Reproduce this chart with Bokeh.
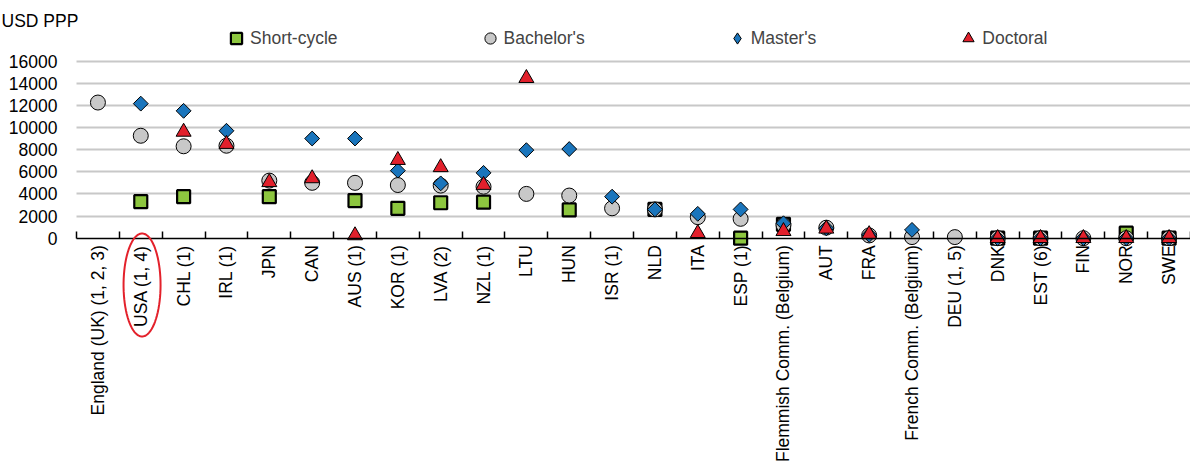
import numpy as np
from bokeh.plotting import figure
from bokeh.models import (ColumnDataSource, Range1d, LinearAxis, FixedTicker, Legend,
                          LegendItem, Label, PolyAnnotation, Grid)
from bokeh.embed import file_html
from bokeh.resources import INLINE

nan = float("nan")

categories = ["England (UK) (1, 2, 3)", "USA (1, 4)", "CHL (1)", "IRL (1)", "JPN", "CAN",
              "AUS (1)", "KOR (1)", "LVA (2)", "NZL (1)", "LTU", "HUN", "ISR (1)", "NLD",
              "ITA", "ESP (1)", "Flemmish Comm. (Belgium)", "AUT", "FRA",
              "French Comm. (Belgium)", "DEU (1, 5)", "DNK", "EST (6)", "FIN", "NOR", "SWE"]

short_cycle = [nan, 3300, 3750, nan, 3750, nan, 3400, 2700, 3200, 3250, nan, 2550, nan, 2600,
               nan, 0, 1250, nan, nan, nan, nan, 0, 0, nan, 450, 0]
bachelors = [12250, 9250, 8300, 8350, 5200, 5000, 5000, 4800, 4750, 4650, 4000, 3850, 2700,
             2600, 1900, 1750, 1200, 950, 250, 100, 100, 0, 0, 0, 0, 0]
masters = [nan, 12150, 11500, 9700, nan, 9000, 9000, 6100, 4950, 5900, 7950, 8050, 3750,
           2600, 2200, 2600, 1350, 900, 300, 750, nan, 0, 0, 0, 0, 0]
doctoral = [nan, nan, 9600, 8500, 5050, 5400, 250, 7050, 6400, 4800, 14450, nan, nan, nan,
            450, nan, 630, 850, 350, nan, nan, 0, 0, 0, 0, 0]

y_ticks = [0, 2000, 4000, 6000, 8000, 10000, 12000, 14000, 16000]
FONT = "Liberation Sans"
FS = "17.5px"

n = len(categories)
xpos = list(range(1, n + 1))
src = ColumnDataSource(dict(x=xpos, sc=short_cycle, ba=bachelors, ma=masters, do=doctoral))

# frame covers the whole canvas; axes are drawn at fixed locations inside it
p = figure(width=1190, height=461, output_backend="svg", toolbar_location=None,
           x_range=Range1d(-1.2738, 26.5), y_range=Range1d(-20163, 21463),
           x_axis_location=None, y_axis_location=None, min_border=0)
p.outline_line_color = None
p.xgrid.visible = False
p.ygrid.visible = False

ygrid = Grid(dimension=1, ticker=FixedTicker(ticks=y_ticks[1:]), cross_bounds=(0.5, n + 0.5),
             grid_line_color="#c8c8c8", grid_line_width=2)
p.add_layout(ygrid)

yaxis = LinearAxis(fixed_location=0.5, ticker=FixedTicker(ticks=y_ticks))
yaxis.axis_line_color = None
yaxis.major_tick_line_color = None
yaxis.minor_tick_line_color = None
yaxis.major_tick_out = 0
yaxis.major_label_standoff = 19
yaxis.major_label_text_font = FONT
yaxis.major_label_text_font_size = FS
yaxis.major_label_text_color = "black"
p.add_layout(yaxis, "left")

xaxis = LinearAxis(fixed_location=0, bounds=(0.5, n + 0.5),
                   ticker=FixedTicker(ticks=xpos, minor_ticks=[i + 0.5 for i in range(n + 1)]))
xaxis.major_label_overrides = {i: c for i, c in zip(xpos, categories)}
xaxis.major_label_orientation = np.pi / 2
xaxis.major_tick_line_color = None
xaxis.major_tick_in = 0
xaxis.major_tick_out = 0
xaxis.minor_tick_in = 7
xaxis.minor_tick_out = 0
xaxis.minor_tick_line_color = "black"
xaxis.minor_tick_line_width = 1.5
xaxis.axis_line_color = "black"
xaxis.axis_line_width = 1.5
xaxis.major_label_standoff = 7
xaxis.major_label_text_font = FONT
xaxis.major_label_text_font_size = FS
xaxis.major_label_text_color = "black"
p.add_layout(xaxis, "below")

r_sc = p.scatter("x", "sc", source=src, marker="square", size=13, fill_color="#8dc63f",
                 line_color="black", line_width=2.2)
r_ba = p.scatter("x", "ba", source=src, marker="circle", size=15, fill_color="#c8c8c8",
                 line_color="black", line_width=1)
r_ma = p.scatter("x", "ma", source=src, marker="square", angle=np.pi / 4, size=10.5,
                 fill_color="#1a75bc", line_color="black", line_width=1)
r_do = p.scatter("x", "do", source=src, marker="triangle", size=15, fill_color="#e2202c",
                 line_color="black", line_width=1)
# legend-only glyph for the Master's diamond (legend ignores marker angle)
r_ma_leg = p.scatter(x=[nan], y=[nan], marker="diamond", size=14, fill_color="#1a75bc",
                     line_color="black", line_width=1)

legend = Legend(items=[LegendItem(label="Short-cycle", renderers=[r_sc]),
                       LegendItem(label="Bachelor's", renderers=[r_ba]),
                       LegendItem(label="Master's", renderers=[r_ma_leg]),
                       LegendItem(label="Doctoral", renderers=[r_do])],
                orientation="horizontal", location=(222, 409), margin=0, padding=0,
                spacing=138, glyph_width=28, glyph_height=28, label_standoff=0,
                label_text_font=FONT, label_text_font_size=FS,
                background_fill_alpha=0, border_line_color=None)
p.add_layout(legend)

p.add_layout(Label(x=-1.25, y=20560, text="USD PPP", text_baseline="top",
                   text_font=FONT, text_font_size=FS, text_color="black"))

t = np.linspace(0, 2 * np.pi, 80)
p.add_layout(PolyAnnotation(xs=list(2.03 + 0.432 * np.cos(t)), ys=list(-4226 + 4650 * np.sin(t)),
                            fill_alpha=0, line_color="#e3212b", line_alpha=1, line_width=2))

open("out.html", "w").write(file_html(p, INLINE))
